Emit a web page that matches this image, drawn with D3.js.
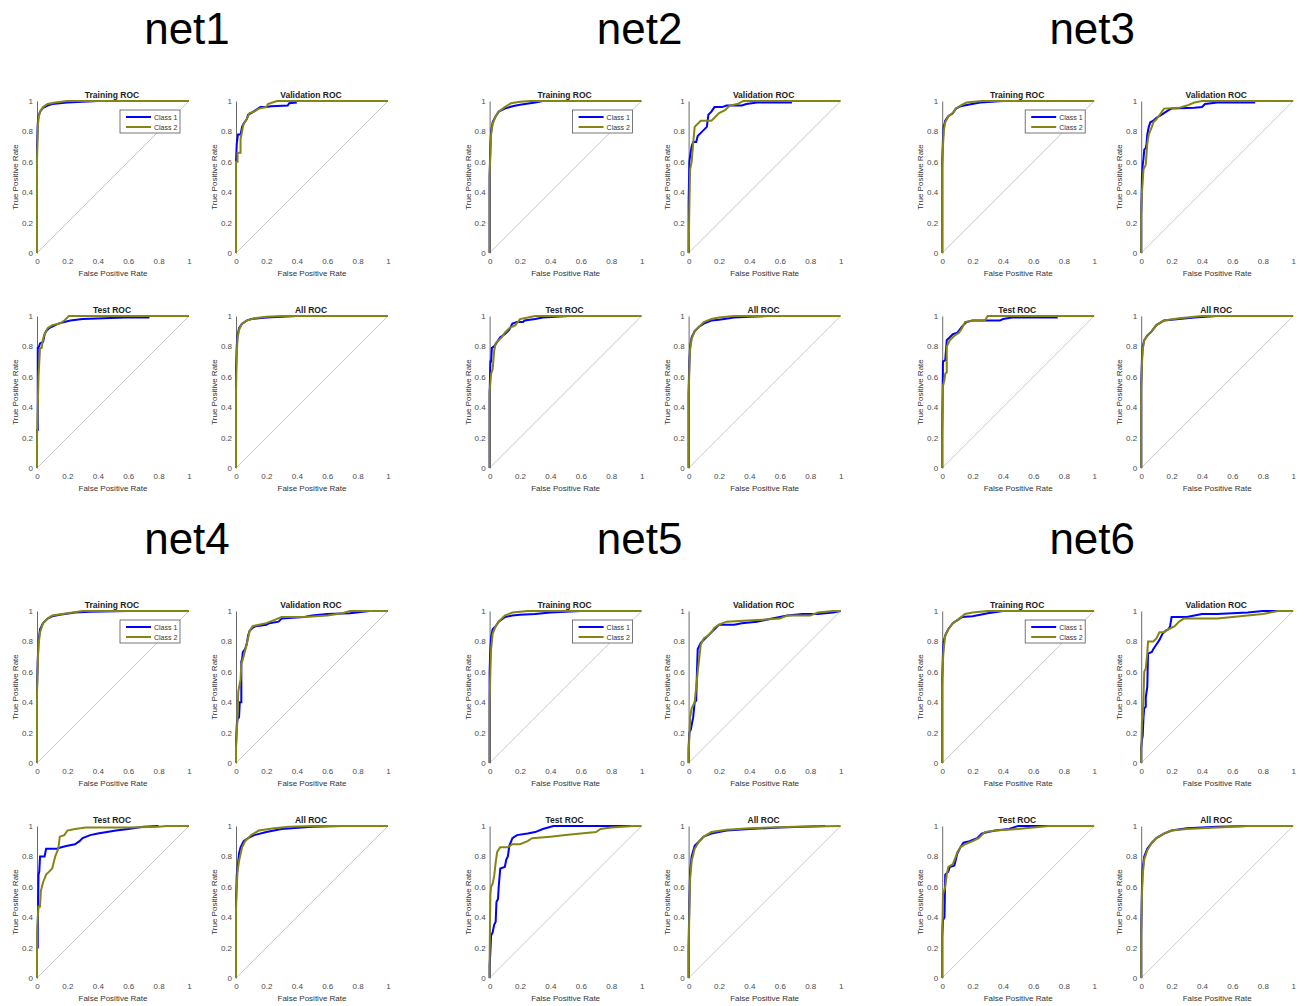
<!DOCTYPE html>
<html>
<head>
<meta charset="utf-8">
<script src="https://cdn.jsdelivr.net/npm/d3@7"></script>
<style>
  html, body { margin: 0; padding: 0; background: #fff; }
  svg { display: block; }
  text { font-family: "Liberation Sans", Arial, Helvetica, sans-serif; }
</style>
</head>
<body>
<svg id="chart" width="1304" height="1006"></svg>
<script>
// ---------------- DATA ----------------
const nets = ["net1", "net2", "net3", "net4", "net5", "net6"];
const panelTitles = ["Training ROC", "Validation ROC", "Test ROC", "All ROC"];
const classNames = ["Class 1", "Class 2"];
const tickValues = [0, 0.2, 0.4, 0.6, 0.8, 1];
const tickLabels = ["0", "0.2", "0.4", "0.6", "0.8", "1"];

// each panel: [Class 1 points, Class 2 points], points are [FPR, TPR]
const net1Training = [
  [[0,0],[0,0.7],[0.005,0.85],[0.01,0.9],[0.02,0.93],[0.04,0.955],[0.07,0.97],[0.1,0.98],[0.2,0.99],[0.3,0.995],[0.4,1]],
  [[0,0],[0,0.6],[0.005,0.82],[0.01,0.89],[0.02,0.93],[0.04,0.96],[0.07,0.98],[0.12,0.99],[0.2,1],[1,1]]
];
const net1Validation = [
  [[0,0],[0,0.6],[0.005,0.72],[0.013,0.78],[0.03,0.78],[0.04,0.83],[0.05,0.85],[0.07,0.88],[0.08,0.91],[0.1,0.92],[0.13,0.94],[0.16,0.96],[0.2,0.96],[0.23,0.965],[0.34,0.97],[0.35,0.985],[0.4,0.99]],
  [[0,0],[0,0.6],[0.01,0.6],[0.01,0.66],[0.03,0.66],[0.03,0.75],[0.04,0.8],[0.05,0.85],[0.07,0.88],[0.09,0.92],[0.12,0.93],[0.15,0.95],[0.2,0.96],[0.21,0.98],[0.24,0.99],[0.27,1],[1,1]]
];
const net1Test = [
  [[0,0],[0,0.25],[0.005,0.25],[0.005,0.79],[0.01,0.79],[0.02,0.82],[0.04,0.83],[0.05,0.88],[0.06,0.9],[0.08,0.92],[0.1,0.93],[0.14,0.95],[0.18,0.96],[0.22,0.97],[0.3,0.98],[0.58,0.99],[0.74,0.99]],
  [[0,0],[0,0.2],[0.01,0.6],[0.02,0.79],[0.03,0.79],[0.04,0.85],[0.05,0.88],[0.07,0.92],[0.1,0.94],[0.15,0.95],[0.18,0.97],[0.21,1],[1,1]]
];
const net1All = [
  [[0,0],[0,0.65],[0.005,0.8],[0.01,0.87],[0.02,0.92],[0.04,0.95],[0.07,0.97],[0.1,0.98],[0.2,0.99],[0.3,0.995],[0.4,1]],
  [[0,0],[0,0.5],[0.005,0.75],[0.01,0.85],[0.02,0.91],[0.04,0.95],[0.07,0.97],[0.12,0.985],[0.2,0.995],[0.3,1],[1,1]]
];

const net2Training = [
  [[0,0],[0,0.5],[0.005,0.7],[0.01,0.8],[0.02,0.86],[0.04,0.9],[0.06,0.93],[0.1,0.95],[0.15,0.965],[0.2,0.975],[0.3,0.99],[0.35,1],[0.5,1]],
  [[0,0],[0,0.5],[0.005,0.65],[0.01,0.78],[0.02,0.85],[0.04,0.9],[0.06,0.93],[0.1,0.96],[0.14,0.985],[0.2,0.995],[0.27,1],[1,1]]
];
const net2Validation = [
  [[0,0],[0,0.33],[0.005,0.6],[0.01,0.64],[0.02,0.7],[0.03,0.73],[0.05,0.73],[0.06,0.77],[0.09,0.8],[0.12,0.83],[0.13,0.91],[0.15,0.93],[0.17,0.96],[0.22,0.96],[0.25,0.97],[0.35,0.97],[0.38,0.98],[0.45,0.99],[0.68,0.99]],
  [[0,0],[0.005,0.3],[0.01,0.55],[0.02,0.6],[0.03,0.72],[0.04,0.83],[0.06,0.85],[0.08,0.87],[0.15,0.87],[0.17,0.89],[0.2,0.92],[0.24,0.94],[0.27,0.97],[0.32,0.98],[0.36,1],[1,1]]
];
const net2Test = [
  [[0,0],[0,0.48],[0.005,0.7],[0.01,0.7],[0.015,0.79],[0.03,0.8],[0.05,0.83],[0.07,0.86],[0.1,0.88],[0.13,0.91],[0.15,0.95],[0.18,0.96],[0.22,0.96],[0.23,0.97],[0.3,0.98],[0.35,0.99],[0.52,1]],
  [[0,0],[0,0.5],[0.01,0.62],[0.02,0.65],[0.03,0.77],[0.04,0.82],[0.06,0.84],[0.08,0.86],[0.1,0.89],[0.13,0.92],[0.17,0.94],[0.2,0.98],[0.3,1],[1,1]]
];
const net2All = [
  [[0,0],[0,0.5],[0.005,0.7],[0.01,0.8],[0.02,0.86],[0.04,0.9],[0.07,0.93],[0.1,0.95],[0.15,0.97],[0.2,0.975],[0.3,0.99],[0.4,0.995],[0.52,1]],
  [[0,0],[0,0.45],[0.005,0.65],[0.01,0.78],[0.02,0.85],[0.04,0.9],[0.07,0.93],[0.1,0.96],[0.15,0.98],[0.2,0.99],[0.3,1],[1,1]]
];

const net3Training = [
  [[0,0],[0,0.6],[0.005,0.75],[0.01,0.83],[0.02,0.87],[0.04,0.9],[0.07,0.92],[0.09,0.95],[0.12,0.965],[0.17,0.975],[0.25,0.99],[0.4,1]],
  [[0,0],[0,0.55],[0.005,0.7],[0.01,0.8],[0.02,0.86],[0.04,0.9],[0.07,0.92],[0.09,0.95],[0.12,0.97],[0.16,0.99],[0.26,1],[1,1]]
];
const net3Validation = [
  [[0,0],[0,0.25],[0.005,0.5],[0.01,0.58],[0.015,0.62],[0.02,0.68],[0.03,0.69],[0.035,0.72],[0.04,0.78],[0.05,0.83],[0.06,0.86],[0.08,0.87],[0.1,0.89],[0.12,0.9],[0.15,0.92],[0.18,0.94],[0.2,0.95],[0.35,0.955],[0.4,0.96],[0.42,0.98],[0.5,0.99],[0.75,0.99]],
  [[0,0],[0,0.25],[0.005,0.4],[0.01,0.47],[0.015,0.55],[0.03,0.58],[0.04,0.72],[0.05,0.78],[0.07,0.83],[0.08,0.86],[0.1,0.88],[0.13,0.92],[0.15,0.95],[0.25,0.955],[0.3,0.97],[0.35,0.99],[0.4,1],[1,1]]
];
const net3Test = [
  [[0,0],[0,0.25],[0.005,0.7],[0.02,0.71],[0.03,0.84],[0.05,0.86],[0.07,0.88],[0.1,0.89],[0.13,0.93],[0.16,0.96],[0.2,0.97],[0.38,0.97],[0.4,0.98],[0.46,0.99],[0.76,0.99]],
  [[0,0],[0,0.2],[0.005,0.54],[0.015,0.58],[0.02,0.62],[0.03,0.63],[0.03,0.8],[0.05,0.84],[0.08,0.87],[0.11,0.89],[0.13,0.92],[0.15,0.96],[0.2,0.97],[0.28,0.97],[0.3,1],[1,1]]
];
const net3All = [
  [[0,0],[0,0.55],[0.005,0.72],[0.01,0.8],[0.02,0.84],[0.04,0.87],[0.07,0.9],[0.1,0.94],[0.15,0.97],[0.25,0.98],[0.35,0.99],[0.5,1]],
  [[0,0],[0,0.5],[0.005,0.68],[0.01,0.78],[0.02,0.84],[0.04,0.87],[0.07,0.9],[0.1,0.94],[0.15,0.97],[0.25,0.985],[0.4,1],[1,1]]
];

const net4Training = [
  [[0,0],[0,0.5],[0.005,0.68],[0.01,0.8],[0.02,0.88],[0.04,0.92],[0.07,0.95],[0.1,0.965],[0.15,0.975],[0.25,0.99],[0.35,0.995],[0.6,1]],
  [[0,0],[0,0.45],[0.005,0.65],[0.01,0.78],[0.02,0.86],[0.04,0.92],[0.07,0.95],[0.1,0.97],[0.2,0.985],[0.3,1],[1,1]]
];
const net4Validation = [
  [[0,0],[0,0.12],[0.005,0.25],[0.01,0.29],[0.02,0.3],[0.025,0.4],[0.035,0.4],[0.035,0.67],[0.04,0.68],[0.045,0.73],[0.06,0.75],[0.07,0.78],[0.08,0.84],[0.09,0.87],[0.11,0.89],[0.13,0.9],[0.2,0.91],[0.22,0.92],[0.28,0.93],[0.3,0.95],[0.45,0.96],[0.5,0.97],[0.6,0.98],[0.75,0.985],[0.88,1]],
  [[0,0],[0,0.1],[0.005,0.2],[0.01,0.3],[0.015,0.47],[0.03,0.55],[0.035,0.65],[0.05,0.7],[0.07,0.78],[0.09,0.87],[0.11,0.9],[0.15,0.91],[0.2,0.92],[0.25,0.94],[0.3,0.96],[0.45,0.96],[0.6,0.97],[0.7,0.985],[0.75,1],[1,1]]
];
const net4Test = [
  [[0,0],[0,0.2],[0.005,0.2],[0.005,0.3],[0.01,0.68],[0.015,0.7],[0.02,0.8],[0.05,0.8],[0.06,0.85],[0.13,0.85],[0.16,0.86],[0.2,0.87],[0.25,0.88],[0.28,0.9],[0.3,0.92],[0.35,0.94],[0.4,0.95],[0.52,0.97],[0.6,0.98],[0.7,0.995],[0.8,1]],
  [[0,0],[0,0.3],[0.005,0.4],[0.01,0.47],[0.02,0.47],[0.025,0.57],[0.04,0.63],[0.06,0.68],[0.08,0.7],[0.1,0.72],[0.11,0.76],[0.12,0.8],[0.14,0.85],[0.15,0.93],[0.18,0.94],[0.2,0.97],[0.25,0.98],[0.32,0.99],[0.6,0.99],[0.8,0.995],[0.85,1],[1,1]]
];
const net4All = [
  [[0,0],[0,0.5],[0.005,0.68],[0.01,0.72],[0.02,0.82],[0.03,0.86],[0.05,0.9],[0.08,0.92],[0.12,0.94],[0.2,0.96],[0.3,0.98],[0.5,0.995],[0.7,1]],
  [[0,0],[0,0.45],[0.005,0.6],[0.01,0.7],[0.02,0.77],[0.04,0.86],[0.06,0.9],[0.1,0.94],[0.15,0.97],[0.25,0.985],[0.35,0.995],[0.5,1],[1,1]]
];

const net5Training = [
  [[0,0],[0,0.6],[0.005,0.75],[0.01,0.83],[0.02,0.88],[0.04,0.9],[0.06,0.93],[0.1,0.96],[0.15,0.97],[0.2,0.975],[0.3,0.98],[0.4,0.99],[0.6,1]],
  [[0,0],[0,0.4],[0.005,0.6],[0.01,0.75],[0.02,0.85],[0.04,0.9],[0.06,0.93],[0.1,0.97],[0.15,0.99],[0.25,1],[1,1]]
];
const net5Validation = [
  [[0,0],[0,0.1],[0.005,0.2],[0.015,0.22],[0.02,0.25],[0.03,0.3],[0.04,0.4],[0.05,0.41],[0.055,0.6],[0.06,0.75],[0.07,0.77],[0.08,0.79],[0.1,0.81],[0.12,0.83],[0.15,0.86],[0.18,0.89],[0.2,0.91],[0.3,0.91],[0.35,0.92],[0.45,0.93],[0.55,0.95],[0.6,0.96],[0.65,0.97],[0.75,0.98],[0.85,0.98],[0.95,0.99],[1,1]],
  [[0,0],[0,0.05],[0.01,0.3],[0.02,0.36],[0.04,0.4],[0.05,0.5],[0.06,0.6],[0.07,0.69],[0.08,0.78],[0.1,0.82],[0.13,0.84],[0.15,0.86],[0.17,0.89],[0.2,0.91],[0.25,0.93],[0.45,0.94],[0.6,0.95],[0.65,0.97],[0.8,0.97],[0.85,0.99],[0.95,1],[1,1]]
];
const net5Test = [
  [[0,0],[0,0.08],[0.005,0.17],[0.01,0.28],[0.02,0.3],[0.03,0.35],[0.04,0.37],[0.045,0.5],[0.055,0.52],[0.06,0.6],[0.07,0.72],[0.1,0.73],[0.11,0.78],[0.12,0.8],[0.13,0.87],[0.15,0.92],[0.18,0.94],[0.25,0.95],[0.3,0.96],[0.35,0.98],[0.42,1],[0.93,1]],
  [[0,0],[0,0.1],[0.005,0.55],[0.01,0.6],[0.02,0.62],[0.03,0.67],[0.04,0.76],[0.05,0.83],[0.07,0.86],[0.12,0.86],[0.15,0.88],[0.2,0.88],[0.25,0.9],[0.28,0.92],[0.4,0.93],[0.5,0.94],[0.6,0.95],[0.7,0.96],[0.73,0.98],[0.8,0.99],[0.95,1],[1,1]]
];
const net5All = [
  [[0,0],[0,0.2],[0.005,0.5],[0.01,0.7],[0.02,0.8],[0.04,0.87],[0.07,0.9],[0.1,0.93],[0.15,0.95],[0.25,0.97],[0.4,0.98],[0.6,0.99],[0.9,1]],
  [[0,0],[0,0.15],[0.005,0.45],[0.01,0.65],[0.02,0.77],[0.04,0.85],[0.07,0.9],[0.1,0.93],[0.15,0.96],[0.25,0.975],[0.4,0.985],[0.7,0.995],[1,1]]
];

const net6Training = [
  [[0,0],[0,0.55],[0.005,0.72],[0.01,0.8],[0.02,0.84],[0.04,0.88],[0.07,0.92],[0.1,0.94],[0.13,0.96],[0.2,0.965],[0.25,0.975],[0.3,0.985],[0.4,1]],
  [[0,0],[0,0.5],[0.005,0.68],[0.01,0.75],[0.02,0.84],[0.04,0.88],[0.07,0.92],[0.1,0.94],[0.15,0.98],[0.2,0.99],[0.3,1],[1,1]]
];
const net6Validation = [
  [[0,0],[0,0.1],[0.005,0.15],[0.01,0.18],[0.015,0.3],[0.02,0.36],[0.03,0.37],[0.03,0.43],[0.04,0.5],[0.045,0.72],[0.07,0.73],[0.08,0.75],[0.1,0.78],[0.12,0.81],[0.14,0.85],[0.16,0.87],[0.18,0.88],[0.19,0.9],[0.2,0.96],[0.3,0.96],[0.4,0.98],[0.5,0.98],[0.7,0.99],[0.8,1],[0.9,1]],
  [[0,0],[0,0.05],[0.005,0.27],[0.01,0.3],[0.015,0.43],[0.02,0.6],[0.03,0.62],[0.04,0.72],[0.045,0.8],[0.08,0.8],[0.1,0.82],[0.12,0.86],[0.15,0.86],[0.18,0.88],[0.22,0.9],[0.25,0.93],[0.28,0.95],[0.5,0.95],[0.6,0.96],[0.7,0.97],[0.8,0.98],[0.9,1],[1,1]]
];
const net6Test = [
  [[0,0],[0,0.27],[0.005,0.38],[0.015,0.4],[0.02,0.68],[0.03,0.69],[0.04,0.7],[0.05,0.73],[0.08,0.74],[0.09,0.78],[0.1,0.82],[0.12,0.86],[0.14,0.89],[0.18,0.9],[0.23,0.92],[0.26,0.95],[0.3,0.96],[0.35,0.97],[0.44,0.98],[0.5,1],[0.71,1]],
  [[0,0],[0,0.25],[0.005,0.55],[0.02,0.6],[0.03,0.68],[0.04,0.73],[0.07,0.75],[0.09,0.8],[0.1,0.83],[0.12,0.86],[0.15,0.88],[0.2,0.9],[0.24,0.92],[0.28,0.96],[0.35,0.97],[0.5,0.98],[0.6,0.99],[0.7,1],[1,1]]
];
const net6All = [
  [[0,0],[0,0.3],[0.005,0.6],[0.01,0.72],[0.02,0.8],[0.04,0.85],[0.07,0.89],[0.1,0.92],[0.15,0.95],[0.2,0.97],[0.3,0.985],[0.5,0.995],[0.7,1]],
  [[0,0],[0,0.25],[0.005,0.55],[0.01,0.68],[0.02,0.78],[0.04,0.84],[0.07,0.89],[0.1,0.92],[0.15,0.95],[0.2,0.97],[0.3,0.98],[0.5,0.99],[0.7,1],[1,1]]
];

const rocData = [
  [net1Training, net1Validation, net1Test, net1All],
  [net2Training, net2Validation, net2Test, net2All],
  [net3Training, net3Validation, net3Test, net3All],
  [net4Training, net4Validation, net4Test, net4All],
  [net5Training, net5Validation, net5Test, net5All],
  [net6Training, net6Validation, net6Test, net6All]
];

// ---------------- LAYOUT / STYLE ----------------
const classColors = ["#0000ff", "#858511"];
const blockDX = 452.6, blockDY = 510;
const panelDX = 199, panelDY = 215;
const originX = 37, originY = 101;
const plotW = 152, plotH = 152;
const tickColor = "#4a4a4a";

const svg = d3.select("#chart");
const x = d3.scaleLinear().domain([0, 1]).range([0, plotW]);
const y = d3.scaleLinear().domain([0, 1]).range([plotH, 0]);
const line = d3.line().x(d => x(d[0])).y(d => y(d[1]));

nets.forEach((netName, ni) => {
  const bx = (ni % 3) * blockDX;
  const by = Math.floor(ni / 3) * blockDY;

  svg.append("text")
    .attr("x", 187 + bx)
    .attr("y", 44 + by)
    .attr("text-anchor", "middle")
    .attr("font-size", 44)
    .attr("fill", "#000")
    .text(netName);

  panelTitles.forEach((title, pi) => {
    const px = originX + bx + (pi % 2) * panelDX;
    const py = originY + by + Math.floor(pi / 2) * panelDY;
    const g = svg.append("g").attr("transform", `translate(${px},${py})`);

    // diagonal reference
    g.append("line")
      .attr("x1", x(0)).attr("y1", y(0))
      .attr("x2", x(1)).attr("y2", y(1))
      .attr("stroke", "#c8c8c8").attr("stroke-width", 1);

    // left axis
    const ya = g.append("g")
      .call(d3.axisLeft(y).tickValues(tickValues).tickFormat((d, i) => tickLabels[i]).tickSize(0).tickPadding(4));
    ya.select(".domain").attr("stroke", "#6a6a6a").attr("stroke-width", 1);
    ya.selectAll("text").attr("fill", tickColor).attr("font-size", 8)
      .attr("font-family", "'Liberation Sans', Arial, sans-serif");

    // bottom axis (labels only)
    const xa = g.append("g").attr("transform", `translate(0,${plotH})`)
      .call(d3.axisBottom(x).tickValues(tickValues).tickFormat((d, i) => tickLabels[i]).tickSize(0).tickPadding(5));
    xa.select(".domain").remove();
    xa.selectAll("text").attr("fill", tickColor).attr("font-size", 8)
      .attr("font-family", "'Liberation Sans', Arial, sans-serif");

    // curves
    const curves = rocData[ni][pi];
    curves.forEach((pts, ci) => {
      g.append("path")
        .datum(pts)
        .attr("d", line)
        .attr("fill", "none")
        .attr("stroke", classColors[ci])
        .attr("stroke-width", 2)
        .attr("stroke-linejoin", "miter");
    });

    // title
    g.append("text")
      .attr("x", plotW / 2 - 1).attr("y", -3)
      .attr("text-anchor", "middle")
      .attr("font-size", 8.5).attr("font-weight", "bold")
      .attr("fill", "#222")
      .text(title);

    // axis labels
    g.append("text")
      .attr("x", plotW / 2).attr("y", plotH + 23)
      .attr("text-anchor", "middle")
      .attr("font-size", 8).attr("fill", "#333")
      .text("False Positive Rate");
    g.append("text")
      .attr("transform", `translate(${-19},${plotH / 2}) rotate(-90)`)
      .attr("text-anchor", "middle")
      .attr("font-size", 8).attr("fill", "#333")
      .text("True Positive Rate");

    // legend on Training panel
    if (pi === 0) {
      const lg = g.append("g").attr("transform", `translate(${83},${9})`);
      lg.append("rect")
        .attr("x", 0).attr("y", 0).attr("width", 60).attr("height", 23)
        .attr("fill", "#fff").attr("stroke", "#555").attr("stroke-width", 0.8);
      classNames.forEach((cn, ci) => {
        const ly = 7 + ci * 10;
        lg.append("line")
          .attr("x1", 6).attr("x2", 31).attr("y1", ly).attr("y2", ly)
          .attr("stroke", classColors[ci]).attr("stroke-width", 2);
        lg.append("text")
          .attr("x", 34).attr("y", ly + 2.5)
          .attr("font-size", 7).attr("fill", "#333")
          .text(cn);
      });
    }
  });
});
</script>
</body>
</html>
